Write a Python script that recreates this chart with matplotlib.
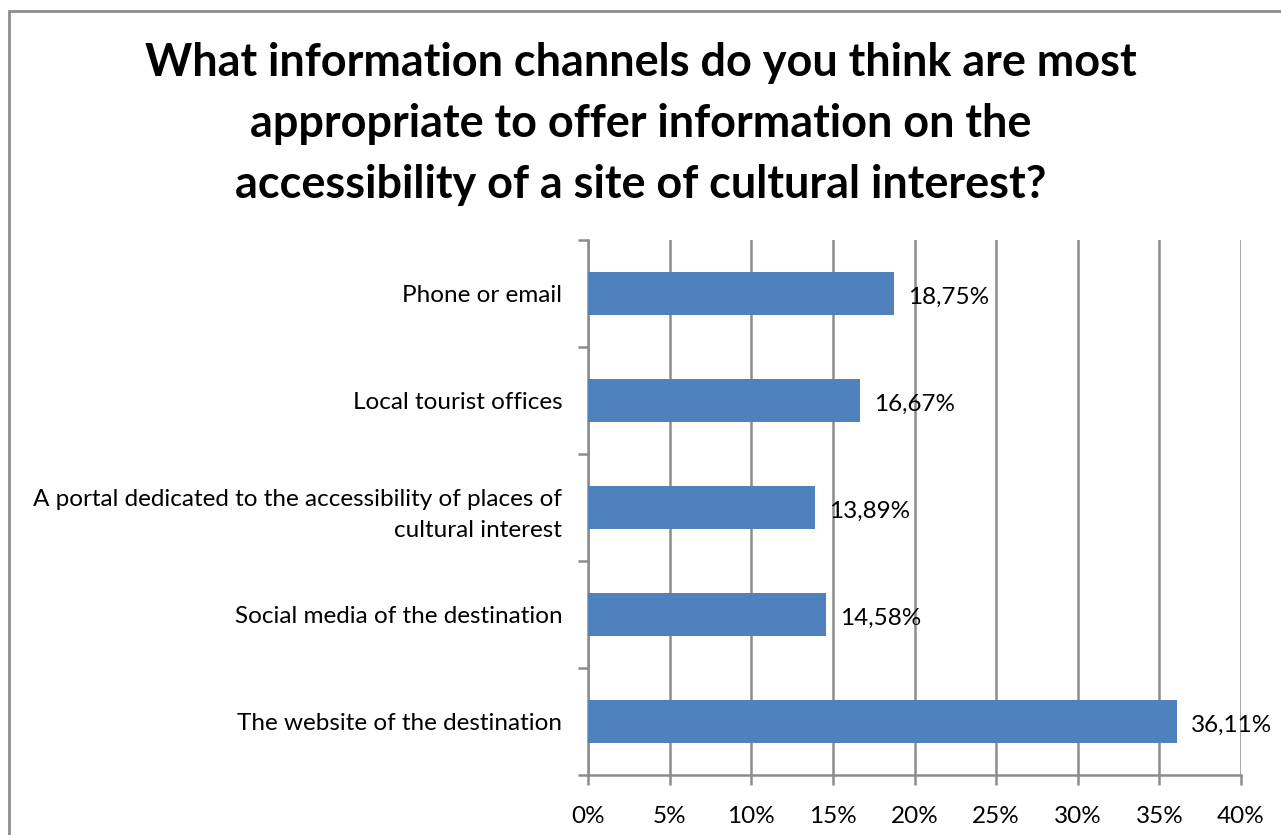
import matplotlib.pyplot as plt
from matplotlib.patches import Rectangle
from matplotlib.ticker import MultipleLocator, FuncFormatter

categories = [
    "Phone or email",
    "Local tourist offices",
    "A portal dedicated to the accessibility of places of\ncultural interest",
    "Social media of the destination",
    "The website of the destination",
]
values = [18.75, 16.67, 13.89, 14.58, 36.11]
value_labels = ["18,75%", "16,67%", "13,89%", "14,58%", "36,11%"]

title = ("What information channels do you think are most\n"
         "appropriate to offer information on the\n"
         "accessibility of a site of cultural interest?")

plt.rcParams['font.family'] = ['Lato', 'DejaVu Sans']

W, H = 1281, 835
fig = plt.figure(figsize=(W / 100, H / 100), dpi=100)
ax = fig.add_axes([588 / W, 1 - 775 / H, (1241 - 588) / W, (775 - 240) / H])

grey = "#8c8c8c"
bar_color = "#4f81bd"
fs = 17.5

# outer frame running off the right and bottom edges
fig.patches.append(Rectangle((9 / W, -0.1), 1.2, 1 - 11 / H + 0.1,
                             transform=fig.transFigure, fill=False,
                             edgecolor=grey, linewidth=2))

n = len(categories)
ypos = list(range(n))
ax.barh(ypos, values, height=0.4, color=bar_color, zorder=3)

for y, v, lab in zip(ypos, values, value_labels):
    ax.text(v + 0.85, y + 0.04, lab, va='center', ha='left', fontsize=fs, zorder=4)

ax.set_xlim(0, 40)
ax.set_ylim(n - 0.5, -0.5)
ax.xaxis.set_major_locator(MultipleLocator(5))
ax.xaxis.set_major_formatter(FuncFormatter(lambda x, p: f"{x:.0f}%"))
ax.grid(axis='x', color=grey, linewidth=1.8, zorder=0)

# y ticks sit between categories, labels at category centres
ax.set_yticks([i - 0.5 for i in range(n + 1)])
ax.set_yticklabels([])
ax.set_yticks(ypos, minor=True)
ax.set_yticklabels(categories, minor=True, fontsize=fs, ha='right', linespacing=1.6)
ax.tick_params(axis='y', which='minor', length=0, pad=18.5)
ax.tick_params(axis='y', which='major', length=7, width=1.8, color=grey)
ax.tick_params(axis='x', length=7, width=1.8, color=grey, labelsize=fs, pad=15)

for side in ['top', 'right']:
    ax.spines[side].set_visible(False)
for side in ['left', 'bottom']:
    ax.spines[side].set_color(grey)
    ax.spines[side].set_linewidth(1.8)

fig.text(0.5, 1 - 124 / H, title, ha='center', va='center', fontsize=32.4,
         fontweight='bold', linespacing=1.56)

fig.savefig("out.png", dpi=100)
